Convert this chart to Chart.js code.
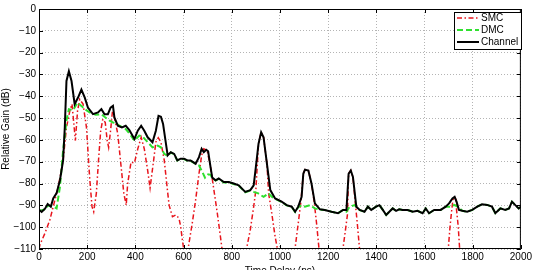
<!DOCTYPE html>
<html>
<head>
<meta charset="utf-8">
<script src="https://cdn.jsdelivr.net/npm/chart.js@4.4.1/dist/chart.umd.min.js"></script>
<style>
  html, body { margin: 0; padding: 0; background: #fff; overflow: hidden; }
  #wrap { width: 534px; height: 270px; overflow: hidden; }
</style>
</head>
<body>
<div id="wrap"><canvas id="chart" width="534" height="280"></canvas></div>
<script>
// Données (délai en ns, gain en dB)
const channelX = [0, 11, 25, 36, 49, 59, 73, 87, 100, 107, 114, 124, 135, 148, 162, 176, 190, 203, 224, 245,
  259, 272, 286, 297, 307, 313, 327, 344, 360, 375, 396, 410, 424, 437, 451, 471, 485, 496, 506, 515,
  527, 534, 547, 561, 574, 588, 602, 616, 629, 650, 664, 675, 684, 694, 702, 712, 719, 733, 746, 767,
  788, 808, 829, 856, 877, 891, 900, 911, 922, 932, 946, 960, 980, 1007, 1028, 1049, 1063, 1076, 1090, 1097,
  1104, 1118, 1131, 1145, 1166, 1186, 1214, 1241, 1262, 1276, 1285, 1294, 1303, 1317, 1331, 1351, 1365, 1379, 1399, 1413,
  1427, 1441, 1454, 1468, 1482, 1495, 1509, 1530, 1551, 1571, 1592, 1605, 1619, 1640, 1667, 1688, 1702, 1716, 1725, 1733,
  1743, 1757, 1777, 1798, 1819, 1839, 1860, 1880, 1894, 1915, 1935, 1951, 1963, 1977, 1991, 2000];
const channelY = [-92, -93, -91.5, -89.4, -90.6, -86.8, -84.4, -78.5, -69.4, -54.3, -33, -28.5, -33, -43.6, -40.6, -36.9, -40.6, -45.2, -48.2, -47.4,
  -45.9, -48.2, -48.2, -45.2, -44.4, -49.7, -53.5, -54.3, -53.5, -55.5, -59.6, -55.8, -53.5, -55.8, -58.8, -61.1, -55.8, -49, -49.4, -52.7,
  -61.8, -67.1, -65.6, -66.4, -69.4, -68.6, -68.6, -69.4, -69.4, -70.9, -67.9, -64.1, -65.6, -64.5, -65.2, -72.5, -77.3, -78.5, -77.7, -79.3,
  -79.3, -80, -80.8, -83.8, -83, -80.8, -72.5, -61.8, -56.5, -58.8, -70.9, -83, -86.8, -88.3, -89.9, -90.6, -92.9, -90.6, -86.1, -75.5,
  -73.6, -74, -80, -89.1, -91.8, -92.1, -92.9, -93.6, -92.1, -92.1, -75.5, -74, -77, -90.6, -92.1, -92.9, -90.6, -92.1, -90.6, -89.9,
  -92.1, -94.4, -92.9, -91.4, -92.5, -91.8, -92.1, -92.1, -92.9, -92.5, -93.6, -91.4, -93.6, -92.1, -92.1, -90.6, -89.1, -86.8, -86.1, -88.3,
  -92.1, -92.5, -92.9, -92.1, -90.6, -89.5, -89.8, -90.6, -93.6, -91.4, -92.1, -91.4, -88.3, -89.9, -91.4, -90.6];

const dmcX = [0, 20, 40, 60, 73, 87, 100, 114, 124, 141, 160, 176, 190, 210, 235, 259, 272, 293, 307, 320,
  334, 360, 375, 396, 416, 430, 451, 471, 492, 506, 520, 534, 547, 561, 574, 588, 602, 616, 629, 650,
  664, 678, 689, 702, 712, 719, 733, 746, 767, 788, 808, 829, 856, 877, 891, 910, 932, 953, 966, 980,
  1007, 1028, 1049, 1063, 1076, 1090, 1104, 1124, 1145, 1166, 1186, 1214, 1241, 1262, 1276, 1289, 1310, 1331, 1351, 1365,
  1379, 1399, 1413, 1427, 1441, 1454, 1468, 1482, 1495, 1509, 1530, 1551, 1571, 1592, 1605, 1619, 1640, 1667, 1688, 1709,
  1723, 1737, 1757, 1777, 1798, 1819, 1839, 1860, 1880, 1894, 1915, 1935, 1951, 1963, 1977, 1991, 2000];
const dmcY = [-92.5, -92, -90, -90.5, -91.4, -81.5, -64.9, -51.2, -45.9, -46.4, -42.9, -44.4, -45.9, -47.4, -48.5, -48.2, -49.4, -51.2, -52, -52.4,
  -53.5, -55, -57, -60.3, -58, -58.5, -61, -63.4, -62.6, -63.4, -66.4, -67.3, -65.8, -66.6, -69.4, -68.8, -68.8, -69.6, -69.6, -71,
  -71.7, -74.7, -77.3, -75.8, -76, -77.5, -78.6, -77.9, -79.5, -79.5, -80.2, -81, -84, -83.2, -83.8, -84.5, -86.1, -84.5, -86, -87,
  -88.5, -90, -90.8, -93, -90.8, -89.9, -90.6, -89.9, -91.4, -92, -92.1, -92.9, -93.6, -92.1, -92.9, -90.6, -89.9, -92.2, -92.9, -90.6,
  -92.1, -90.6, -89.9, -92.1, -94.4, -92.9, -91.4, -92.5, -91.8, -92.1, -92.1, -92.9, -92.5, -93.6, -91.4, -93.6, -92.1, -92.1, -90.6, -90.6,
  -89.8, -90.6, -92.5, -92.9, -92.1, -90.6, -89.5, -89.8, -90.6, -93.6, -91.4, -92.1, -91.4, -88.3, -89.9, -91.4, -90.6];

// null = la courbe SMC passe sous l'axe (hors figure)
const smcX = [0, 4, 25, 45, 59, 80, 100, 114, 128, 137, 146, 151, 160, 169, 183, 197, 210, 220, 227, 238,
  247, 256, 265, 275, 283, 289, 297, 305, 316, 327, 341, 352, 362, 368, 382, 396, 410, 424, 437, 451,
  461, 475, 485, 495, 506, 520, 533, 540, 554, 568, 581, 588, 595, 603, 609, 615, 620, 636, 650, 664,
  675, 684, 698, 712, 726, 740, 753, 762, 810, 861, 863, 877, 891, 900, 911, 922, 932, 946, 953, 966,
  980, 993, 1030, 1061, 1063, 1076, 1087, 1097, 1104, 1118, 1131, 1142, 1152, 1164, 1210, 1260, 1262, 1272, 1280, 1285,
  1294, 1303, 1313, 1321, 1332, 1500, 1697, 1699, 1706, 1713, 1718, 1725, 1731, 1733, 1740, 1747];
const smcY = [-110, -108, -102.7, -96.7, -90.6, -81.5, -69.4, -54.3, -46.7, -43.6, -54.3, -60.3, -46.7, -41.4, -43.6, -54.3, -77, -90.6, -92.9, -84.5,
  -69.4, -55.8, -50.5, -52, -60.3, -63.4, -55.8, -46.7, -51.2, -57.3, -72.5, -84.5, -89.9, -80, -70.2, -70.6, -64.1, -58.8, -64.1, -74,
  -82, -70, -61, -59, -61, -69.4, -83, -89.9, -95.2, -94.4, -95.9, -99.7, -105.8, -112, null, -112, -109, -98.2, -87.6, -75.5,
  -67.1, -64.1, -64.9, -72.5, -83, -93.6, -104.3, -112, null, -112, -109, -101.2, -90.6, -83, -61.8, -56.5, -58.8, -70.9, -84.5, -93.6,
  -104.3, -112, null, -112, -109.5, -98.2, -88.3, -75.5, -73.6, -74, -80, -88.3, -98.2, -112, null, -112, -109.5, -101.2, -94.4, -75.5,
  -74, -77, -89.1, -98.2, -112, null, -112, -109.5, -99.7, -92.1, -87.5, -86.1, -87.5, -92.1, -99.7, -112];

const xTicks = [0, 200, 400, 600, 800, 1000, 1200, 1400, 1600, 1800, 2000];
const yTicks = [0, -10, -20, -30, -40, -50, -60, -70, -80, -90, -100, -110];

const seriesNames = ['SMC', 'DMC', 'Channel'];

function toPoints(xs, ys) {
    return xs.map((x, i) => ({ x: x, y: ys[i] }));
}

function minusLabel(v) {
    return v < 0 ? '\u2212' + Math.abs(v) : String(v);
}

/**
 * Cadre noir + graduations vers l'intérieur (style MATLAB)
 */
const framePlugin = {
    id: 'frame',
    afterDatasetsDraw(chart) {
        const { ctx, chartArea: a, scales } = chart;
        ctx.save();
        ctx.strokeStyle = '#000';
        ctx.lineWidth = 1;
        ctx.strokeRect(a.left + 0.5, a.top + 0.5, a.right - a.left - 1, a.bottom - a.top - 1);
        ctx.beginPath();
        xTicks.forEach(v => {
            const px = Math.round(scales.x.getPixelForValue(v)) + 0.5;
            ctx.moveTo(px, a.bottom); ctx.lineTo(px, a.bottom - 4);
            ctx.moveTo(px, a.top); ctx.lineTo(px, a.top + 4);
        });
        yTicks.forEach(v => {
            const py = Math.round(scales.y.getPixelForValue(v)) + 0.5;
            ctx.moveTo(a.left, py); ctx.lineTo(a.left + 4, py);
            ctx.moveTo(a.right, py); ctx.lineTo(a.right - 4, py);
        });
        ctx.stroke();
        ctx.restore();
    }
};

/**
 * Légende encadrée en haut à droite
 */
const boxLegendPlugin = {
    id: 'boxLegend',
    afterDraw(chart) {
        const ctx = chart.ctx;
        const x0 = 454, y0 = 12, w = 67, h = 37;
        ctx.save();
        ctx.fillStyle = '#fff';
        ctx.fillRect(x0, y0, w, h);
        ctx.strokeStyle = '#000';
        ctx.lineWidth = 1;
        ctx.strokeRect(x0 + 0.5, y0 + 0.5, w, h);
        ctx.font = '10px "Liberation Sans", Arial, sans-serif';
        ctx.textBaseline = 'middle';
        const rows = [18, 30, 42];
        chart.data.datasets.forEach((ds, i) => {
            const y = rows[i];
            ctx.beginPath();
            ctx.strokeStyle = ds.borderColor;
            ctx.lineWidth = ds.borderWidth;
            ctx.setLineDash(ds.borderDash || []);
            ctx.moveTo(457, y);
            ctx.lineTo(479, y);
            ctx.stroke();
            ctx.setLineDash([]);
            ctx.fillStyle = '#000';
            ctx.fillText(ds.label, 481, y + 0.5);
        });
        ctx.restore();
    }
};

const ctx = document.getElementById('chart').getContext('2d');
new Chart(ctx, {
    type: 'line',
    data: {
        datasets: [
            {
                label: seriesNames[0],
                data: toPoints(smcX, smcY),
                borderColor: '#e8141c',
                borderWidth: 1.5,
                borderDash: [5, 2.5, 1.5, 2.5],
                spanGaps: false,
                order: 2
            },
            {
                label: seriesNames[1],
                data: toPoints(dmcX, dmcY),
                borderColor: '#2fe02f',
                borderWidth: 2,
                borderDash: [6, 3],
                order: 1
            },
            {
                label: seriesNames[2],
                data: toPoints(channelX, channelY),
                borderColor: '#000',
                borderWidth: 2,
                order: 0
            }
        ]
    },
    options: {
        responsive: false,
        animation: false,
        devicePixelRatio: 1,
        layout: { padding: { top: 7, right: 10, left: 0, bottom: 2 } },
        elements: {
            point: { radius: 0 },
            line: { tension: 0, fill: false }
        },
        plugins: {
            legend: { display: false },
            tooltip: { enabled: false }
        },
        scales: {
            x: {
                type: 'linear',
                min: 0,
                max: 2000,
                afterFit: s => { s.height = 29; },
                afterBuildTicks: s => { s.ticks = xTicks.map(v => ({ value: v })); },
                ticks: {
                    color: '#000',
                    padding: 2,
                    maxRotation: 0,
                    callback: v => String(v),
                    font: { family: '"Liberation Sans", Arial, sans-serif', size: 10 }
                },
                grid: { color: '#b4b4b4', lineWidth: 1, drawTicks: false },
                border: { display: false, dash: [1, 2] },
                title: {
                    display: true,
                    text: 'Time Delay (ns)',
                    color: '#000',
                    padding: { top: 0, bottom: 0.5 },
                    font: { family: '"Liberation Sans", Arial, sans-serif', size: 10 }
                }
            },
            y: {
                min: -110,
                max: 0,
                afterFit: s => { s.width = 39; },
                afterBuildTicks: s => { s.ticks = yTicks.map(v => ({ value: v })); },
                ticks: {
                    color: '#000',
                    padding: 3,
                    callback: v => minusLabel(v),
                    font: { family: '"Liberation Sans", Arial, sans-serif', size: 10 }
                },
                grid: { color: '#b4b4b4', lineWidth: 1, drawTicks: false },
                border: { display: false, dash: [1, 2] },
                title: {
                    display: true,
                    text: 'Relative Gain (dB)',
                    color: '#000',
                    padding: { top: 0, bottom: 0 },
                    font: { family: '"Liberation Sans", Arial, sans-serif', size: 10 }
                }
            }
        }
    },
    plugins: [framePlugin, boxLegendPlugin]
});
</script>
</body>
</html>
